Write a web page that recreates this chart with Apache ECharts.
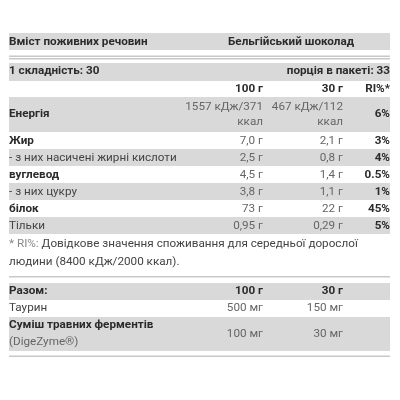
<!DOCTYPE html><html><head><meta charset="utf-8">
<script src="https://cdn.jsdelivr.net/npm/echarts@6/dist/echarts.min.js"></script>
<style>html,body{margin:0;padding:0;background:#fff}#c{width:400px;height:400px}</style></head><body><div id="c"></div>
<script>
const headerTitle = ['Вміст поживних речовин','Бельгійський шоколад'];
const servingInfo = ['1 складність: 30','порція в пакеті: 33'];
const colHeads = ['100 г','30 г','RI%*'];
const nutrients = ['Енергія','Жир','- з них насичені жирні кислоти','вуглевод','- з них цукру','білок','Тільки'];
const per100 = ['1557 кДж/371\nккал','7,0 г','2,5 г','4,5 г','3,8 г','73 г','0,95 г'];
const per30 = ['467 кДж/112\nккал','2,1 г','0,8 г','1,4 г','1,1 г','22 г','0,29 г'];
const ri = ['6%','3%','4%','0.5%','1%','45%','5%'];
const nutrientBold = [true,true,false,true,false,true,false];
const footnote = ['* RI%: ','Довідкове значення споживання для середньої дорослої','людини (8400 кДж/2000 ккал).'];
const extraHeads = ['Разом:','100 г','30 г'];
const extras = ['Таурин','Суміш травних ферментів\n(DigeZyme®)'];
const extra100 = ['500 мг','100 мг'];
const extra30 = ['150 мг','30 мг'];

const F='Roboto, "Noto Sans", sans-serif';
const FS='11.7px ';
const G='#d9d9d9', L=9, R=390, C1=263, C2=343;
const els=[];
function band(y,h){els.push({type:'rect',shape:{x:L,y:y,width:R-L,height:h},style:{fill:G}});}
function line(y){els.push({type:'rect',shape:{x:L,y:y,width:R-L,height:1.5},style:{fill:'#c8c8c8'}});}
function txt(s,x,y,al,bold,col,lh){els.push({type:'text',x:x,y:y,style:{text:s,font:(bold?'bold ':'')+FS+F,fill:col||(bold?'#2b2b2b':'#555'),align:al||'left',verticalAlign:'middle',lineHeight:lh||15.5}});}
band(33,17); txt(headerTitle[0],L,42,'left',true); txt(headerTitle[1],228,42,'left',true);
line(55.5); line(58);
band(63,18); txt(servingInfo[0],L,71,'left',true); txt(servingInfo[1],R,71,'right',true);
txt(colHeads[0],C1,89,'right',true); txt(colHeads[1],C2,89,'right',true); txt(colHeads[2],R,89,'right',true);
let y=97;
nutrients.forEach((n,i)=>{
  const h=i===0?35:17; if(i%2===0) band(y,h);
  const cy=y+h/2+(i===0?0:0.5);
  txt(n,L,cy,'left',nutrientBold[i],nutrientBold[i]?'#2b2b2b':'#444');
  txt(per100[i],C1,cy,'right',false,'#666');
  txt(per30[i],C2,cy,'right',false,'#666');
  txt(ri[i],R,cy,'right',true);
  y+=h;
});
els.push({type:'text',x:L,y:244,style:{rich:{a:{fill:'#888',font:FS+F},b:{fill:'#444',font:FS+F}},text:'{a|'+footnote[0]+'}{b|'+footnote[1]+'}',verticalAlign:'middle'}});
txt(footnote[2],L,262,'left',false,'#444');
line(276);
band(283,17); txt(extraHeads[0],L,291.5,'left',true); txt(extraHeads[1],C1,291.5,'right',true); txt(extraHeads[2],C2,291.5,'right',true);
txt(extras[0],L,308.5,'left',false,'#444'); txt(extra100[0],C1,308.5,'right',false,'#666'); txt(extra30[0],C2,308.5,'right',false,'#666');
band(317,34);
els.push({type:'text',x:L,y:334,style:{rich:{a:{font:'bold '+FS+F,fill:'#2b2b2b',lineHeight:17},b:{font:FS+F,fill:'#666',lineHeight:17}},text:'{a|'+extras[1].split('\n')[0]+'}\n{b|'+extras[1].split('\n')[1]+'}',verticalAlign:'middle'}});
txt(extra100[1],C1,334,'right',false,'#666'); txt(extra30[1],C2,334,'right',false,'#666');
line(355.5);
const chart=echarts.init(document.getElementById('c'));
chart.setOption({animation:false,graphic:{elements:els}});
</script></body></html>
